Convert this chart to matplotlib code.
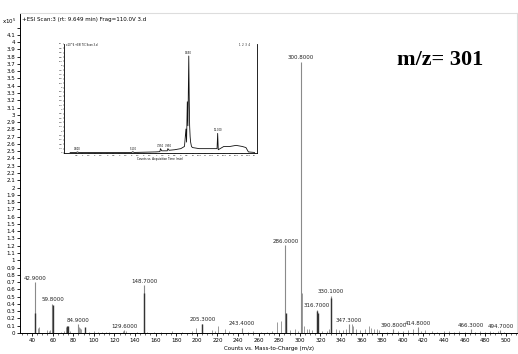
import matplotlib
matplotlib.use('Agg')
import matplotlib.pyplot as plt
import numpy as np

# labelled peaks (m/z, counts x10^5)
label_mz = [42.9, 59.8, 84.9, 129.6, 148.7, 205.3, 243.4, 286.0, 300.8,
            316.7, 330.1, 347.3, 390.8, 414.8, 466.3, 494.7]
label_int = [0.70, 0.40, 0.12, 0.04, 0.66, 0.13, 0.07, 1.21, 3.73,
             0.32, 0.51, 0.12, 0.05, 0.08, 0.05, 0.04]

# darker, shorter peaks overlaid on the gray ones
dark_mz = [43.2, 59.9, 73.5, 74.5, 91.0, 148.8, 205.4, 287.0, 316.8, 317.4, 330.2]
dark_int = [0.28, 0.38, 0.09, 0.10, 0.08, 0.55, 0.12, 0.27, 0.30, 0.28, 0.48]

# minor peaks
minor_mz = [46, 47, 55, 56, 57, 60.8, 68, 71, 73, 75, 77, 86, 87, 88, 95, 100,
            104, 108, 112, 115, 128, 131, 142, 152, 158, 165, 176, 186, 195, 199,
            215, 218, 221, 227, 231, 250, 255, 262, 268, 273, 278, 282, 290, 295,
            298, 302.4, 304, 307, 309, 312, 318, 322, 326, 328, 335, 338, 342,
            345, 351, 352, 355, 358, 363, 367, 369, 372, 375, 377, 385, 395, 400,
            405, 410, 418, 422, 428, 433, 440, 445, 450, 455, 460, 470, 475, 480,
            485, 488, 492, 498]
minor_int = [0.07, 0.08, 0.04, 0.03, 0.04, 0.07, 0.02, 0.03, 0.08, 0.06, 0.03,
             0.08, 0.07, 0.06, 0.02, 0.03, 0.02, 0.02, 0.02, 0.01, 0.03, 0.03,
             0.02, 0.01, 0.01, 0.01, 0.03, 0.02, 0.03, 0.07, 0.04, 0.03, 0.10,
             0.05, 0.03, 0.02, 0.03, 0.02, 0.02, 0.03, 0.15, 0.16, 0.04, 0.05,
             0.03, 0.55, 0.10, 0.05, 0.06, 0.04, 0.15, 0.03, 0.03, 0.05, 0.05,
             0.04, 0.04, 0.05, 0.12, 0.09, 0.05, 0.04, 0.05, 0.09, 0.07, 0.05,
             0.06, 0.04, 0.02, 0.03, 0.03, 0.04, 0.05, 0.03, 0.04, 0.03, 0.02,
             0.03, 0.03, 0.02, 0.03, 0.02, 0.02, 0.03, 0.02, 0.03, 0.02, 0.03,
             0.02]

# inset chromatogram (time min, relative response)
inset_t = [0.0, 0.5, 0.6, 0.7, 1.0, 3.0, 5.0, 5.1, 5.2, 7.0, 7.3, 7.35, 7.45,
           7.6, 7.9, 7.95, 8.05, 8.5, 9.0, 9.3, 9.42, 9.47, 9.53, 9.58, 9.65,
           9.69, 9.72, 9.76, 9.8, 9.87, 9.95, 10.5, 11.0, 11.5, 11.95, 12.0,
           12.05, 12.5, 13.0, 13.5, 14.0, 14.3, 14.5, 15.0]
inset_y = [0.005, 0.005, 0.01, 0.005, 0.005, 0.005, 0.005, 0.012, 0.005, 0.01,
           0.012, 0.04, 0.02, 0.02, 0.02, 0.04, 0.025, 0.03, 0.04, 0.06, 0.22,
           0.10, 0.47, 0.25, 0.89, 0.47, 0.25, 0.15, 0.10, 0.06, 0.05, 0.04,
           0.04, 0.04, 0.04, 0.18, 0.03, 0.06, 0.06, 0.07, 0.06, 0.05, 0.01, 0.005]
inset_lbl_t = [0.6, 5.1, 7.35, 7.95, 9.65, 12.0]

fig = plt.figure(figsize=(5.18, 3.54), dpi=100)
ax = fig.add_axes([20 / 518, 21 / 354, 497 / 518, 320 / 354])

ax.vlines(minor_mz, 0, minor_int, color='#9a9a9a', lw=0.7)
ax.vlines(label_mz, 0, label_int, color='#8a8a8a', lw=0.8)
ax.vlines(dark_mz, 0, dark_int, color='#333333', lw=1.0)
for m, h in zip(label_mz, label_int):
    ax.text(m, h + 0.02, f'{m:.4f}', ha='center', va='bottom', fontsize=4,
            color='#222222')

ax.set_xlim(28.3, 510.9)
ax.set_ylim(0, 4.40)
ax.set_xticks(np.arange(40, 501, 20))
ax.set_xticks(np.arange(30, 511, 5), minor=True)
yt = np.round(np.arange(0, 4.21, 0.1), 1)
ax.set_yticks(yt)
ax.set_yticklabels([('%g' % v) if v < 4.15 else '' for v in yt])
ax.tick_params(labelsize=4, length=2.5, width=0.6, pad=1)
ax.tick_params(which='minor', length=1.2, width=0.4)
for s in ['top', 'right']:
    ax.spines[s].set_color('#dddddd')
    ax.spines[s].set_linewidth(0.8)
for s in ['left', 'bottom']:
    ax.spines[s].set_linewidth(0.7)
ax.set_xlabel('Counts vs. Mass-to-Charge (m/z)', fontsize=4, labelpad=2)

fig.text(2 / 518, 1 - 21 / 354, r'x10$^5$', fontsize=4, va='center')
fig.text(22 / 518, 1 - 19 / 354, '+ESI Scan:3 (rt: 9.649 min) Frag=110.0V 3.d',
         fontsize=4, va='center')
fig.text(440 / 518, 1 - 60 / 354, 'm/z= 301', fontfamily='Liberation Serif',
         fontweight='bold', fontsize=16, ha='center', va='center')

# inset
ins = fig.add_axes([64 / 518, 1 - 153 / 354, 193 / 518, 109 / 354])
ins.plot(inset_t, inset_y, color='#111111', lw=0.6)
for t in inset_lbl_t:
    yv = np.interp(t, inset_t, inset_y)
    ins.text(t, yv + 0.01, f'{t:.3f}', ha='center', va='bottom', fontsize=1.8)
ins.set_xlim(-0.5, 15.2)
ins.set_ylim(0, 1.0)
ins.set_xticks(np.arange(0.5, 15.1, 0.5))
ins.set_xticklabels(['%g' % v for v in np.arange(0.5, 15.1, 0.5)])
ins.set_yticks(np.arange(0, 1.01, 0.04))
ins.set_yticklabels(['%g' % round(v * 10, 1) for v in np.arange(0, 1.01, 0.04)])
ins.tick_params(labelsize=1.6, length=1, width=0.3, pad=0.5)
ins.spines['top'].set_visible(False)
for s in ['left', 'bottom', 'right']:
    ins.spines[s].set_linewidth(0.6)
ins.set_xlabel('Counts vs. Acquisition Time (min)', fontsize=2, labelpad=1)
ins.patch.set_alpha(0)
fig.text(66 / 518, 1 - 46 / 354, 'x10^6 +ESI TIC Scan 3.d', fontsize=1.8)
fig.text(250 / 518, 1 - 46 / 354, '1  2  3  4', fontsize=1.8, ha='right')

fig.savefig('out.png', dpi=100)
